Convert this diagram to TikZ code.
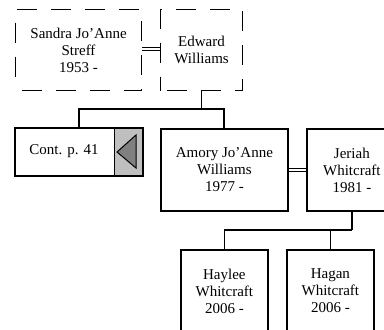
\documentclass[tikz,border=0pt]{standalone}
\usepackage{fontspec}
\setmainfont{Liberation Serif}
\begin{document}
\begin{tikzpicture}[x=1pt,y=-1pt,
  person/.style={draw, line width=1.8pt, inner sep=0pt, align=center, anchor=north west,
    font=\fontsize{15}{17}\selectfont},
  dperson/.style={person, line width=1.1pt, dash pattern=on 20pt off 14pt, dash phase=-6pt},
  conn/.style={line width=1.8pt},
  marr/.style={double, line width=1pt, double distance=2.2pt}]
\useasboundingbox (0,0) rectangle (384,330);
\fill[white] (0,0) rectangle (384,330);
% generation 1
\node[dperson, minimum width=126pt, minimum height=81pt] (sandra) at (15,9) {Sandra Jo'Anne\\Streff\\1953 -};
\node[dperson, minimum width=82pt, minimum height=81pt] (edward) at (160,9) {Edward\\Williams};
% generation 2
\node[person, draw=none, minimum width=126pt, minimum height=46pt] (cont) at (15,128) {};
\fill[gray!50] ([xshift=-28pt]cont.north east) rectangle (cont.south east);
\draw[line width=1pt] ([xshift=-28pt]cont.north east) -- ([xshift=-28pt]cont.south east);
\draw[line width=1.8pt] (cont.north west) rectangle (cont.south east);
\draw[line width=2.6pt] (cont.north east) -- (cont.south east);
\node[font=\fontsize{15}{17}\selectfont, inner sep=0pt] (conttext) at (64,151) {Cont. p. 41};
\draw[fill=gray, line width=1pt] (117,152) -- (136,135) -- (136,168) -- cycle;
\node[person, minimum width=127pt, minimum height=82pt] (amory) at (160,128) {Amory Jo'Anne\\Williams\\1977 -};
\node[person, minimum width=90pt, minimum height=82pt] (jeriah) at (306,128) {Jeriah\\Whitcraft\\1981 -};
% generation 3
\node[person, minimum width=87pt, minimum height=82pt] (haylee) at (180,249) {Haylee\\Whitcraft\\2006 -};
\node[person, minimum width=87pt, minimum height=82pt] (hagan) at (286,249) {Hagan\\Whitcraft\\2006 -};
% marriages
\draw[marr] ([yshift=1pt]sandra.east) -- ([yshift=1pt]sandra.east -| edward.west);
\draw[marr] (amory.east) -- (amory.east -| jeriah.west);
% children of Sandra & Edward
\coordinate (e1) at (edward.south |- 0,109);
\draw[conn] (edward.south) -- (e1);
\draw[conn] (cont.north) |- (224,109) -- (224,128);
% children of Amory & Jeriah
\coordinate (j1) at (jeriah.south |- 0,230);
\draw[conn] (jeriah.south) -- (j1);
\draw[conn] (haylee.north) |- (j1);
\draw[conn] (hagan.north) -- (hagan.north |- j1);
\end{tikzpicture}
\end{document}
